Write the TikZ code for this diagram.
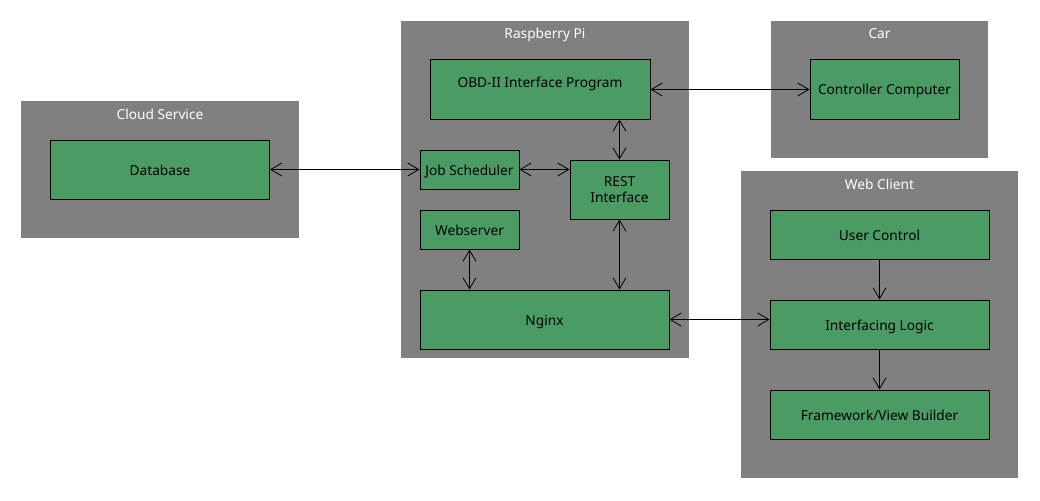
\documentclass[tikz,border=0pt]{standalone}
\usepackage{fontspec}
\setmainfont{Noto Sans}
\usetikzlibrary{arrows.meta}
\definecolor{groupgray}{HTML}{808080}
\definecolor{compgreen}{HTML}{4B9C64}
\tikzset{
  group/.style={fill=groupgray},
  grouptitle/.style={text=white,text height=11pt,text depth=0pt},
  comp/.style={draw=black,fill=compgreen,line width=1pt,inner sep=0pt},
  oneline/.style={text height=11pt,text depth=0pt},
  link/.style={line width=0.8pt,{Straight Barb[length=11pt,width=13pt]}-{Straight Barb[length=11pt,width=13pt]}},
  flow/.style={line width=0.8pt,-{Straight Barb[length=11pt,width=13pt]}}
}
\begin{document}
\begin{tikzpicture}[x=1pt,y=-1pt,font=\fontsize{13.7}{16}\selectfont]
    \useasboundingbox (0,0) rectangle (1040,500);

    % groups
    \fill[group] (21,101) rectangle (299,238);
    \node[grouptitle] (cloudT) at (160,113.5) {Cloud Service};
    \fill[group] (401,21) rectangle (689,358);
    \node[grouptitle] (piT) at (545,33.5) {Raspberry Pi};
    \fill[group] (771,21) rectangle (988,158);
    \node[grouptitle] (carT) at (879.5,33.5) {Car};
    \fill[group] (741,171) rectangle (1018,478);
    \node[grouptitle] (webT) at (879.5,183.5) {Web Client};

    % components
    \node[comp,oneline,minimum width=219pt,minimum height=59pt] (db) at (160,169.5) {Database};
    \node[comp,minimum width=220pt,minimum height=59pt,text height=11pt,text depth=15pt] (obd) at (540,89.5) {OBD-II Interface Program};
    \node[comp,oneline,minimum width=99pt,minimum height=39pt] (job) at (469.5,169.5) {Job Scheduler};
    \node[comp,minimum width=99pt,minimum height=59pt,align=center] (rest) at (619.5,189.5) {REST\\Interface};
    \node[comp,oneline,minimum width=99pt,minimum height=39pt] (websrv) at (469.5,229.5) {Webserver};
    \node[comp,oneline,minimum width=249pt,minimum height=59pt] (nginx) at (544.5,319.5) {Nginx};
    \node[comp,oneline,minimum width=149pt,minimum height=59pt] (ctrl) at (884.5,89.5) {Controller Computer};
    \node[comp,oneline,minimum width=219pt,minimum height=49pt] (user) at (879.5,234.5) {User Control};
    \node[comp,oneline,minimum width=219pt,minimum height=49pt] (intf) at (879.5,324.5) {Interfacing Logic};
    \node[comp,oneline,minimum width=219pt,minimum height=49pt] (fwk) at (879.5,414.5) {Framework/View Builder};

    % connectors
    \draw[link] (db.east) -- (job.west);
    \draw[link] (obd.east) -- (ctrl.west);
    \draw[link] (rest.north |- obd.south) -- (rest.north);
    \draw[link] (job.east) -- (job.east -| rest.west);
    \draw[link] (rest.south) -- (rest.south |- nginx.north);
    \draw[link] (websrv.south) -- (websrv.south |- nginx.north);
    \draw[link] (nginx.east) -- (nginx.east -| intf.west);
    \draw[flow] (user.south) -- (intf.north);
    \draw[flow] (intf.south) -- (fwk.north);

\end{tikzpicture}
\end{document}
